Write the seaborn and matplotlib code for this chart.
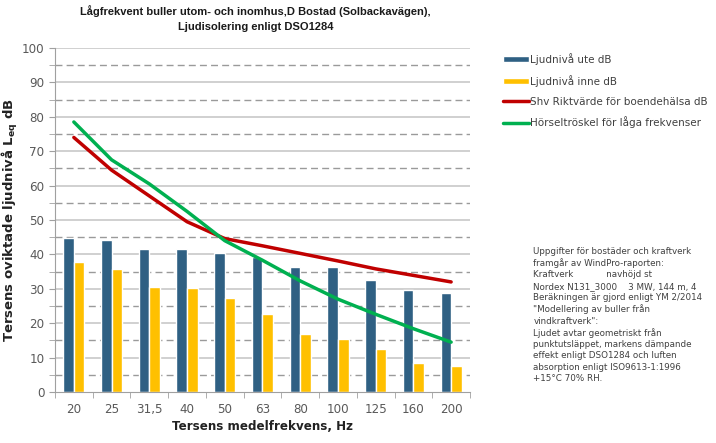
import numpy as np
import pandas as pd
import matplotlib
matplotlib.use("Agg")
import matplotlib.pyplot as plt
import seaborn as sns
from matplotlib.ticker import MultipleLocator, FixedLocator

# Data
frekvens = ["20", "25", "31,5", "40", "50", "63", "80", "100", "125", "160", "200"]
ute = [44.7, 44.2, 41.5, 41.6, 40.4, 39.3, 36.4, 36.3, 32.6, 29.7, 28.8]
inne = [37.9, 35.8, 30.6, 30.2, 27.4, 22.8, 16.8, 15.3, 12.4, 8.3, 7.6]
riktvarde = [74.0, 64.5, 57.0, 49.5, 44.6, 42.5, 40.3, 38.1, 35.8, 33.9, 32.0]
horsel = [78.5, 67.5, 60.5, 52.5, 44.0, 38.3, 32.3, 27.0, 22.6, 18.4, 14.5]

serie_namn = ["Ljudnivå ute dB", "Ljudnivå inne dB",
              "Shv Riktvärde för boendehälsa dB", "Hörseltröskel för låga frekvenser"]
farger = ["#2F6083", "#FFC000", "#C00000", "#00B050"]

notis = ("Uppgifter för bostäder och kraftverk\n"
         "framgår av WindPro-raporten:\n"
         "Kraftverk            navhöjd st\n"
         "Nordex N131_3000    3 MW, 144 m, 4\n"
         "Beräkningen är gjord enligt YM 2/2014\n"
         "\"Modellering av buller från\n"
         "vindkraftverk\":\n"
         "Ljudet avtar geometriskt från\n"
         "punktutsläppet, markens dämpande\n"
         "effekt enligt DSO1284 och luften\n"
         "absorption enligt ISO9613-1:1996\n"
         "+15°C 70% RH.")

df = pd.DataFrame({
    "Frekvens": frekvens * 2,
    "Nivå": ute + inne,
    "Serie": [serie_namn[0]] * len(frekvens) + [serie_namn[1]] * len(frekvens),
})

sns.set_style("white")
plt.rcParams["font.family"] = ["DejaVu Sans"]
grey = "#595959"

fig = plt.figure(figsize=(7.16, 4.43), dpi=100)
ax = fig.add_axes([0.0768, 0.1151, 0.5796, 0.7765])

# grid: solid at tens, dashed at fives
for v in range(10, 101, 10):
    ax.axhline(v, color="#C8C8C8", lw=1.2, zorder=0)
for v in range(5, 100, 10):
    ax.axhline(v, color="#9A9A9A", lw=1.0, ls=(0, (5, 3)), zorder=0)

sns.barplot(data=df, x="Frekvens", y="Nivå", hue="Serie", hue_order=serie_namn[:2],
            palette=farger[:2], width=0.56, gap=0, saturation=1, ax=ax, zorder=2)

pos = np.arange(len(frekvens))
sns.lineplot(x=pos, y=riktvarde, color=farger[2], lw=2.5, label=serie_namn[2], ax=ax, zorder=3)
sns.lineplot(x=pos, y=horsel, color=farger[3], lw=2.5, label=serie_namn[3], ax=ax, zorder=3)

ax.set_xlim(-0.5, len(frekvens) - 0.5)
ax.set_ylim(0, 100)
ax.yaxis.set_major_locator(MultipleLocator(10))
ax.yaxis.set_minor_locator(MultipleLocator(5))
ax.xaxis.set_minor_locator(FixedLocator(np.arange(-0.5, len(frekvens), 1)))
ax.tick_params(axis="x", which="major", length=0, pad=8, labelsize=8.6, labelcolor=grey)
ax.tick_params(axis="x", which="minor", length=4, color="#A0A0A0", bottom=True)
ax.tick_params(axis="y", which="both", length=4, color="#A0A0A0", left=True, labelsize=8.6, labelcolor=grey)

for s in ["top", "right"]:
    ax.spines[s].set_visible(False)
for s in ["left", "bottom"]:
    ax.spines[s].set_color("#A0A0A0")

ax.set_xlabel("Tersens medelfrekvens, Hz", fontsize=8.6, fontweight="bold", color="#222222", labelpad=3)
ax.set_ylabel("Tersens oviktade ljudnivå L$_{\\mathbf{eq}}$ dB", fontsize=9.5,
              fontweight="bold", color="#222222")
ax.yaxis.set_label_coords(-0.085, 0.5)

fig.suptitle("Lågfrekvent buller utom- och inomhus,D Bostad (Solbackavägen),\n"
             "Ljudisolering enligt DSO1284", x=0.357, y=0.988, fontsize=8.0,
             fontweight="bold", color="#1A1A1A", linespacing=1.6,
             family=["Liberation Sans", "DejaVu Sans"])

handles, labels = ax.get_legend_handles_labels()
ax.get_legend().remove()
order = [labels.index(n) for n in serie_namn]
fig.legend([handles[i] for i in order], [labels[i] for i in order],
           loc="upper left", bbox_to_anchor=(0.697, 0.89), frameon=False,
           fontsize=7.5, labelcolor="#404040", handlelength=2.5, handleheight=0.45,
           handletextpad=0.1, labelspacing=0.95, borderaxespad=0)

fig.text(0.745, 0.443, notis, fontsize=6.3, color="#404040", va="top", ha="left", linespacing=1.32)

fig.savefig("out.png", dpi=100)
